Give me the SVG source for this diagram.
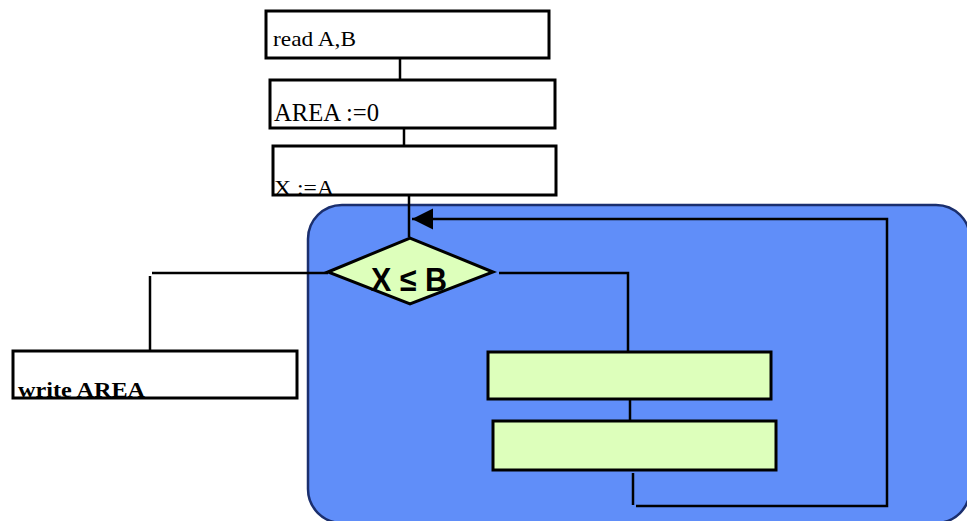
<svg xmlns="http://www.w3.org/2000/svg" width="967" height="521" viewBox="0 0 967 521">
  <defs>
    <style>
      .box { fill: #ffffff; stroke: #000000; stroke-width: 3; }
      .act { fill: #DDFFBB; stroke: #000000; stroke-width: 3; }
      .line { fill: none; stroke: #000000; stroke-width: 2.5; }
      .txt { font-family: "Liberation Serif", "Times New Roman", serif; fill: #000000; }
      .bold { font-weight: bold; }
      .cond { font-family: "Liberation Sans", Arial, sans-serif; font-size: 33px; font-weight: bold; fill: #000000; }
    </style>
    <marker id="arrow" viewBox="0 0 10 10" refX="10" refY="5" markerWidth="21" markerHeight="22" markerUnits="userSpaceOnUse" orient="auto">
      <path d="M0,0 L10,5 L0,10 z" fill="#000000"/>
    </marker>
  </defs>

  <!-- loop region -->
  <g id="loop-region">
    <rect x="308" y="205" width="662" height="318" rx="34" ry="34" fill="#608EF9" stroke="#1B2F6E" stroke-width="2.5"/>
  </g>

  <!-- connectors -->
  <g id="connectors">
    <line class="line" x1="400" y1="58" x2="400" y2="80"/>
    <line class="line" x1="404" y1="128" x2="404" y2="146"/>
    <line class="line" x1="409" y1="195" x2="409" y2="237"/>
    <!-- false branch -->
    <polyline class="line" points="328,273 152,273"/>
    <line class="line" x1="150" y1="276" x2="150" y2="351"/>
    <!-- true branch -->
    <polyline class="line" points="499,273 628,273 628,351"/>
    <line class="line" x1="630" y1="399" x2="630" y2="421"/>
    <!-- loop back -->
    <line class="line" x1="633" y1="473" x2="633" y2="505"/>
    <polyline class="line" points="636,506 887,506 887,219 433,219"/>
    <line class="line" x1="433" y1="219" x2="412" y2="219" marker-end="url(#arrow)"/>
  </g>

  <g id="read">
    <rect class="box" x="266" y="11" width="283" height="47"/>
    <text class="txt" x="273" y="45.5" style="font-size:22px" textLength="83" lengthAdjust="spacingAndGlyphs">read A,B</text>
  </g>

  <g id="area-init">
    <rect class="box" x="270" y="80" width="285" height="48"/>
    <text class="txt" x="274" y="120.5" style="font-size:25px" textLength="105" lengthAdjust="spacingAndGlyphs">AREA :=0</text>
  </g>

  <g id="x-init">
    <rect class="box" x="273" y="146" width="283" height="49"/>
    <text class="txt" x="274" y="194.5" style="font-size:22px" textLength="60" lengthAdjust="spacingAndGlyphs">X :=A</text>
  </g>

  <g id="condition">
    <polygon points="328,272 410,238 493,272 410,304" fill="#DDFFBB" stroke="#000000" stroke-width="3"/>
    <text class="cond" x="371" y="291" textLength="76" lengthAdjust="spacingAndGlyphs">X ≤ B</text>
  </g>

  <g id="write">
    <rect class="box" x="13" y="351" width="284" height="47"/>
    <text class="txt bold" x="18" y="397" style="font-size:22px" textLength="127" lengthAdjust="spacingAndGlyphs">write AREA</text>
  </g>

  <g id="step-1">
    <rect class="act" x="488" y="352" width="283" height="47"/>
  </g>

  <g id="step-2">
    <rect class="act" x="493" y="421" width="283" height="49"/>
  </g>
</svg>
